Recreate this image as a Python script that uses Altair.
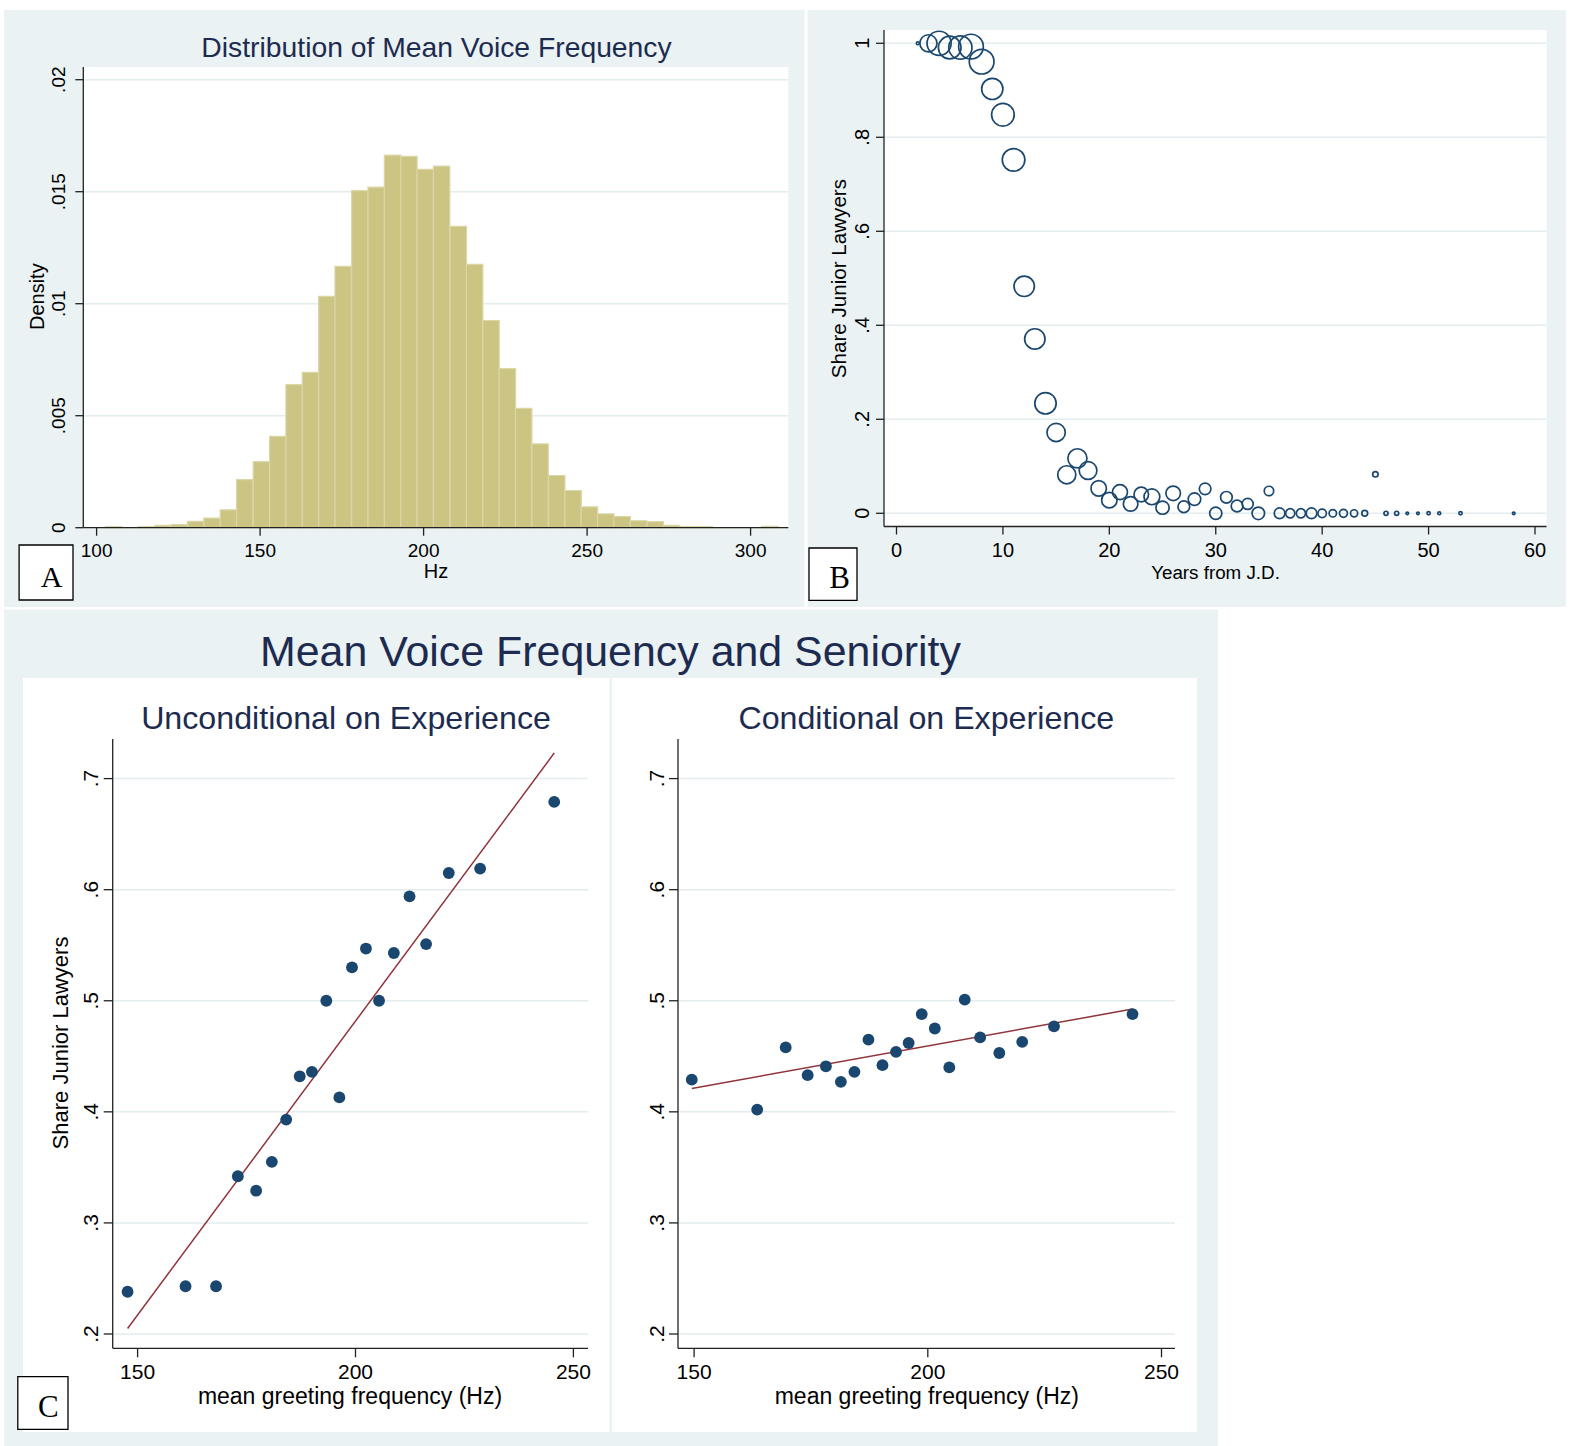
import altair as alt
import pandas as pd

W, H = 1577, 1446

# ---------------- data: panel A (histogram of mean voice frequency) ----------------
HIST_BIN_LEFT = [102.7, 107.7, 112.7, 117.8, 122.8, 127.8, 132.8, 137.8, 142.8, 147.9,
                 152.9, 157.9, 162.9, 167.9, 172.9, 178.0, 183.0, 188.0, 193.0, 198.0,
                 203.0, 208.1, 213.1, 218.1, 223.1, 228.1, 233.1, 238.2, 243.2, 248.2,
                 253.2, 258.2, 263.2, 268.3, 273.3, 278.3, 283.3, 288.3, 293.3, 298.4, 303.4]
HIST_BIN_WIDTH = 5.02
HIST_DENSITY = [0.00005, 0.0, 0.00005, 0.0001, 0.00014, 0.00028, 0.00043, 0.0008, 0.00215, 0.00295,
                0.00408, 0.00639, 0.00693, 0.01033, 0.01167, 0.01505, 0.0152, 0.01663, 0.01658, 0.0160,
                0.01614, 0.01345, 0.01176, 0.00925, 0.0071, 0.00533, 0.00374, 0.00233, 0.00166, 0.00093,
                0.00062, 0.0005, 0.00031, 0.00027, 0.0001, 0.00005, 0.00005, 0.0, 0.0, 0.0, 0.00006]

# ---------------- data: panel B (share junior by years from J.D.) ----------------
B_YEARS = [2, 3, 4, 5, 6, 7, 8, 9, 10, 11, 12, 13, 14, 15, 16, 17, 18, 19, 20, 21,
           22, 23, 24, 25, 26, 27, 28, 29, 30, 31, 32, 33, 34, 35, 36, 37, 38, 39, 40, 41,
           42, 43, 44, 45, 46, 47, 48, 49, 50, 51, 53, 58]
B_SHARE = [1.0, 1.0, 1.0, 0.991, 0.991, 0.993, 0.961, 0.903, 0.848, 0.752, 0.483, 0.371, 0.234, 0.172,
           0.082, 0.117, 0.091, 0.053, 0.028, 0.045, 0.020, 0.040, 0.035, 0.012, 0.0425, 0.014, 0.030,
           0.052, 0.0, 0.034, 0.0155, 0.020, 0.0, 0.0475, 0.0, 0.0, 0.0, 0.0, 0.0, 0.0,
           0.0, 0.0, 0.0, 0.083, 0.0, 0.0, 0.0, 0.0, 0.0, 0.0, 0.0, 0.0]
B_COUNT = [2, 69, 137, 121, 128, 144, 144, 106, 121, 121, 98, 98, 108, 79, 77, 86, 74, 56, 56, 53,
           50, 50, 59, 41, 50, 32, 37, 32, 35, 32, 32, 29, 37, 21, 27, 20, 20, 27, 17, 13,
           15, 12, 8, 7, 4, 4, 1.5, 1.5, 2.5, 2, 2.5, 1.5]

# ---------------- data: panel C (binned scatter) ----------------
UNC_HZ = [147.7, 161.0, 168.0, 173.0, 177.2, 180.8, 184.1, 187.2, 190.0, 193.3,
          196.3, 199.2, 202.4, 205.4, 208.8, 212.4, 216.2, 221.4, 228.6, 245.6]
UNC_SHARE = [0.238, 0.243, 0.243, 0.342, 0.329, 0.355, 0.393, 0.432, 0.436, 0.500,
             0.413, 0.530, 0.547, 0.500, 0.543, 0.594, 0.551, 0.615, 0.619, 0.679]
UNC_FIT_HZ = [147.7, 245.6]
UNC_FIT_SHARE = [0.205, 0.723]

COND_HZ = [149.5, 163.5, 169.6, 174.3, 178.2, 181.4, 184.3, 187.3, 190.3, 193.2,
           195.9, 198.7, 201.5, 204.6, 207.9, 211.2, 215.3, 220.2, 227.0, 243.8]
COND_SHARE = [0.429, 0.402, 0.458, 0.433, 0.441, 0.427, 0.436, 0.465, 0.442, 0.454,
              0.462, 0.488, 0.475, 0.440, 0.501, 0.467, 0.453, 0.463, 0.477, 0.488]
COND_FIT_HZ = [149.5, 243.8]
COND_FIT_SHARE = [0.421, 0.4925]

# ---------------- ticks ----------------
A_X_TICKS = [100, 150, 200, 250, 300]
A_X_LABELS = ["100", "150", "200", "250", "300"]
A_Y_TICKS = [0, 0.005, 0.01, 0.015, 0.02]
A_Y_LABELS = ["0", ".005", ".01", ".015", ".02"]
B_X_TICKS = [0, 10, 20, 30, 40, 50, 60]
B_X_LABELS = ["0", "10", "20", "30", "40", "50", "60"]
B_Y_TICKS = [0, 0.2, 0.4, 0.6, 0.8, 1]
B_Y_LABELS = ["0", ".2", ".4", ".6", ".8", "1"]
C_X_TICKS = [150, 200, 250]
C_X_LABELS = ["150", "200", "250"]
C_Y_TICKS = [0.2, 0.3, 0.4, 0.5, 0.6, 0.7]
C_Y_LABELS = [".2", ".3", ".4", ".5", ".6", ".7"]

# ---------------- texts ----------------
TITLE_A = "Distribution of Mean Voice Frequency"
A_XTITLE = "Hz"
A_YTITLE = "Density"
B_XTITLE = "Years from J.D."
B_YTITLE = "Share Junior Lawyers"
C_TITLE = "Mean Voice Frequency and Seniority"
C_LEFT_TITLE = "Unconditional on Experience"
C_RIGHT_TITLE = "Conditional on Experience"
C_XTITLE = "mean greeting frequency (Hz)"
C_YTITLE = "Share Junior Lawyers"
LETTERS = ["A", "B", "C"]

# ---------------- style ----------------
FONT = "Liberation Sans"
SERIF = "Liberation Serif"
BG = "#EAF2F3"
GRID = "#E3ECEE"
AXIS_COLOR = "#222222"
NAVY = "#1A476F"
TITLE_COLOR = "#1D2B50"
BAR_FILL = "#CBC483"
BAR_EDGE = "#DAD6A6"
FIT = "#90353B"

ONE = pd.DataFrame({"k": [0]})


def inv(m, p):
    """data value that sits at pixel p, for the mapping m = (v0, px0, v1, px1)"""
    v0, p0, v1, p1 = m
    return v0 + (p - p0) * (v1 - v0) / (p1 - p0)


def panel_parts(xm, ym, box, xt, xl, yt, yl, fsize, xpad, ypad, tsize):
    L, T, R, B = box
    sx = alt.Scale(domain=[inv(xm, 0), inv(xm, W)], nice=False, zero=False)
    sy = alt.Scale(domain=[inv(ym, H), inv(ym, 0)], nice=False, zero=False)
    X = lambda f: alt.X(f, type="quantitative", scale=sx, axis=None)
    Y = lambda f: alt.Y(f, type="quantitative", scale=sy, axis=None)
    x0, x1 = inv(xm, L), inv(xm, R)
    y0, y1 = inv(ym, B), inv(ym, T)
    bx = pd.DataFrame({"x0": [x0], "x1": [x1], "y0": [y0], "y1": [y1]})

    area = alt.Chart(bx).mark_rect(fill="white").encode(
        x=X("x0"), x2=alt.X2("x1"), y=Y("y0"), y2=alt.Y2("y1"))
    gd = pd.DataFrame({"v": yt})
    gd["x0"] = x0
    gd["x1"] = x1
    grid = alt.Chart(gd).mark_rule(color=GRID, strokeWidth=1.5).encode(
        x=X("x0"), x2=alt.X2("x1"), y=Y("v"))

    xline = alt.Chart(bx).mark_rule(color=AXIS_COLOR, strokeWidth=1.3).encode(
        x=X("x0"), x2=alt.X2("x1"), y=Y("y0"))
    yline = alt.Chart(bx).mark_rule(color=AXIS_COLOR, strokeWidth=1.3).encode(
        x=X("x0"), y=Y("y0"), y2=alt.Y2("y1"))

    # x ticks and labels
    xd = pd.DataFrame({"v": xt, "lab": xl})
    xd["ya"] = y0
    xd["yb"] = inv(ym, B + tsize)
    xd["yl"] = inv(ym, B + tsize + xpad)
    xticks = alt.Chart(xd).mark_rule(color=AXIS_COLOR, strokeWidth=1.3).encode(
        x=X("v"), y=Y("ya"), y2=alt.Y2("yb"))
    xlabels = alt.Chart(xd).mark_text(font=FONT, fontSize=fsize, color="black",
                                      align="center", baseline="top").encode(
        x=X("v"), y=Y("yl"), text="lab:N")
    # y ticks and labels (rotated, Stata style)
    yd = pd.DataFrame({"v": yt, "lab": yl})
    yd["xa"] = x0
    yd["xb"] = inv(xm, L - tsize)
    yd["xl"] = inv(xm, L - tsize - ypad)
    yticks = alt.Chart(yd).mark_rule(color=AXIS_COLOR, strokeWidth=1.3).encode(
        y=Y("v"), x=X("xa"), x2=alt.X2("xb"))
    ylabels = alt.Chart(yd).mark_text(font=FONT, fontSize=fsize, color="black", angle=270,
                                      align="center", baseline="alphabetic").encode(
        y=Y("v"), x=X("xl"), text="lab:N")
    return X, Y, [area, grid], [xline, yline, xticks, yticks, xlabels, ylabels]


def prect(x0, y0, x1, y1, fill, stroke=None, sw=0):
    kw = dict(fill=fill)
    if stroke:
        kw.update(stroke=stroke, strokeWidth=sw)
    return alt.Chart(ONE).mark_rect(**kw).encode(
        x=alt.value(x0), x2=alt.value(x1), y=alt.value(y0), y2=alt.value(y1))


def ptext(s, x, y, size, color="black", angle=0, font=FONT):
    return alt.Chart(pd.DataFrame({"t": [s]})).mark_text(
        font=font, fontSize=size, color=color, angle=angle, align="center",
        baseline="alphabetic").encode(text="t:N", x=alt.value(x), y=alt.value(y))


# ---------------- panel A ----------------
A_XMAP = (100, 96.6, 300, 750.6)
A_YMAP = (0, 527.7, 0.02, 79.7)
XA, YA, A_under, A_over = panel_parts(A_XMAP, A_YMAP, (83.3, 67, 788.3, 527.7),
                                      A_X_TICKS, A_X_LABELS, A_Y_TICKS, A_Y_LABELS,
                                      19, 6, 10, 8)
hist_df = pd.DataFrame({"lo": HIST_BIN_LEFT, "d": HIST_DENSITY})
hist_df["hi"] = hist_df["lo"] + HIST_BIN_WIDTH
hist_df["z"] = 0.0
bars = alt.Chart(hist_df).mark_rect(fill=BAR_FILL, stroke=BAR_EDGE, strokeWidth=1.2).encode(
    x=XA("lo"), x2=alt.X2("hi"), y=YA("d"), y2=alt.Y2("z"))
panelA = alt.layer(*A_under, bars, *A_over)

# ---------------- panel B ----------------
B_XMAP = (0, 896.5, 60, 1535.0)
B_YMAP = (0, 513.3, 1, 43.3)
XB, YB, B_under, B_over = panel_parts(B_XMAP, B_YMAP, (884, 30, 1546.5, 526.5),
                                      B_X_TICKS, B_X_LABELS, B_Y_TICKS, B_Y_LABELS,
                                      20, 6, 6.6, 8)
b_df = pd.DataFrame({"yr": B_YEARS, "share": B_SHARE, "n": B_COUNT})
circles = alt.Chart(b_df).mark_point(shape="circle", filled=False, color=NAVY,
                                     strokeWidth=1.7, opacity=1).encode(
    x=XB("yr"), y=YB("share"),
    size=alt.Size("n:Q", scale=alt.Scale(domain=[0, 144], range=[0, 610]), legend=None))
panelB = alt.layer(*B_under, circles, *B_over)

# ---------------- panel C ----------------
C_YMAP = (0.2, 1334.0, 0.7, 778.6)
CL_XMAP = (150, 137.6, 250, 573.4)
CR_XMAP = (150, 694.1, 250, 1161.5)


def binscatter(xm, box, hz, share, fhz, fshare):
    X, Y, under, over = panel_parts(xm, C_YMAP, box, C_X_TICKS, C_X_LABELS,
                                    C_Y_TICKS, C_Y_LABELS, 21, 4.5, 5.5, 9)
    pts = alt.Chart(pd.DataFrame({"hz": hz, "s": share})).mark_circle(
        size=140, color=NAVY, opacity=1).encode(x=X("hz"), y=Y("s"))
    fit = alt.Chart(pd.DataFrame({"hz": fhz, "s": fshare})).mark_line(
        color=FIT, strokeWidth=1.5).encode(x=X("hz"), y=Y("s"))
    return alt.layer(*under, fit, pts, *over)


panelCL = binscatter(CL_XMAP, (112.7, 739, 588, 1348.3), UNC_HZ, UNC_SHARE,
                     UNC_FIT_HZ, UNC_FIT_SHARE)
panelCR = binscatter(CR_XMAP, (678, 739, 1175, 1348.3), COND_HZ, COND_SHARE,
                     COND_FIT_HZ, COND_FIT_SHARE)

# ---------------- frame ----------------
frame = [
    prect(4, 10, 804.5, 607, BG),
    prect(807.5, 10, 1566, 607, BG),
    prect(4, 609.5, 1218, 1446, BG),
    prect(23, 678, 609.5, 1432, "white"),
    prect(612, 678, 1197, 1432, "white"),
]

texts = [
    ptext(TITLE_A, 436.5, 57, 28.3, TITLE_COLOR),
    ptext(A_YTITLE, 43.5, 296.7, 20, angle=270),
    ptext(A_XTITLE, 436, 578, 20),
    ptext(B_YTITLE, 846, 278.6, 20.6, angle=270),
    ptext(B_XTITLE, 1215.5, 579, 18.8),
    ptext(C_TITLE, 610.5, 666, 42.9, TITLE_COLOR),
    ptext(C_LEFT_TITLE, 346, 729, 32.2, TITLE_COLOR),
    ptext(C_RIGHT_TITLE, 926.3, 729, 32.2, TITLE_COLOR),
    ptext(C_YTITLE, 68, 1043, 22, angle=270),
    ptext(C_XTITLE, 350, 1403.5, 23),
    ptext(C_XTITLE, 926.8, 1403.5, 23),
]

letters = [
    prect(19.1, 545, 73, 600, "white", "black", 1.3),
    prect(809, 548, 857, 600.4, "white", "black", 1.3),
    prect(17.8, 1376.7, 68, 1429.3, "white", "black", 1.3),
    ptext(LETTERS[0], 51.5, 587, 30, font=SERIF),
    ptext(LETTERS[1], 839.7, 587.5, 31, font=SERIF),
    ptext(LETTERS[2], 48.4, 1417.3, 31, font=SERIF),
]

chart = alt.layer(
    *frame, panelA, panelB, panelCL, panelCR, *texts, *letters
).resolve_scale(x="independent", y="independent").properties(
    width=W, height=H, padding=0, background="white",
    autosize=alt.AutoSizeParams(type="none"),
).configure_view(stroke=None)

chart.save("out.html", embed_options={"renderer": "svg", "actions": False})
